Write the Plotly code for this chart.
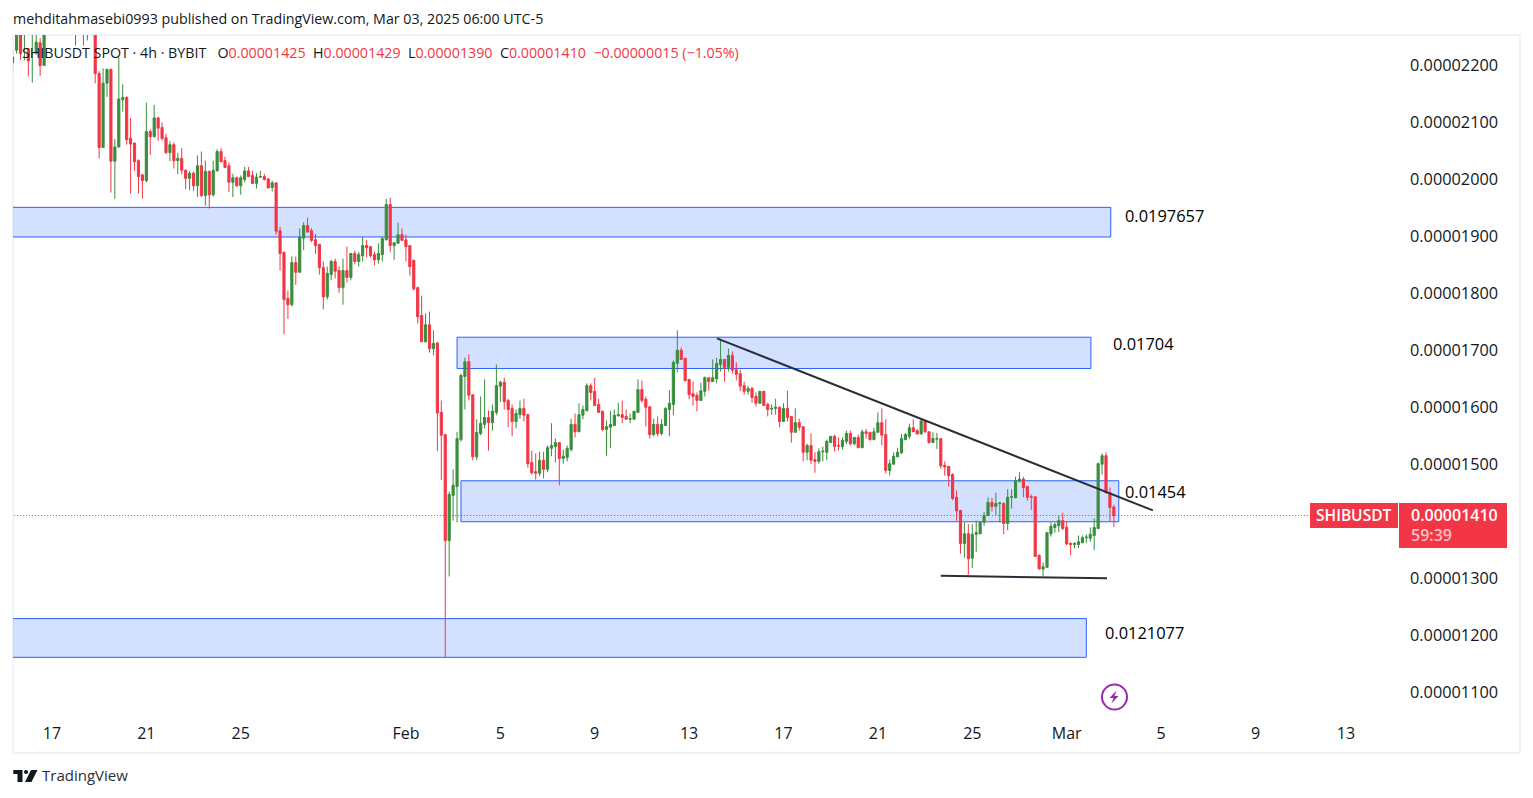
import numpy as np
import pandas as pd
import plotly.graph_objects as go

# 4h candles in units of 1e-8 USDT
opens = [
    2205, 2227, 2300, 2262, 2229, 2260, 2223, 2240, 2200, 2262,
    2275, 2305, 2290, 2280, 2295, 2275, 2262, 2280, 2285, 2262,
    2285, 2270, 2186, 2056, 2169, 2193, 2032, 2057, 2140, 2144,
    2072, 2064, 2033, 2008, 1998, 2084, 2075, 2108, 2091, 2073,
    2047, 2061, 2033, 2037, 2016, 2002, 2011, 1989, 2024, 1972,
    2014, 1973, 2015, 2049, 2033, 2024, 1995, 2003, 1989, 2000,
    2015, 2007, 1993, 2004, 2005, 2001, 1986, 1994, 1910, 1872,
    1791, 1780, 1854, 1837, 1897, 1919, 1910, 1894, 1886, 1845,
    1794, 1833, 1856, 1840, 1810, 1840, 1828, 1870, 1856, 1866,
    1884, 1882, 1868, 1859, 1868, 1894, 1956, 1884, 1888, 1903,
    1894, 1884, 1858, 1810, 1761, 1715, 1745, 1703, 1713, 1591,
    1552, 1366, 1445, 1461, 1543, 1654, 1680, 1622, 1513, 1554,
    1570, 1582, 1573, 1591, 1637, 1644, 1612, 1598, 1575, 1587,
    1598, 1587, 1503, 1487, 1484, 1507, 1491, 1528, 1531, 1538,
    1510, 1512, 1526, 1570, 1557, 1586, 1594, 1638, 1628, 1605,
    1593, 1561, 1565, 1568, 1585, 1587, 1584, 1579, 1579, 1591,
    1631, 1614, 1601, 1552, 1570, 1554, 1568, 1596, 1605, 1677,
    1700, 1686, 1649, 1624, 1621, 1612, 1628, 1652, 1645, 1650,
    1675, 1684, 1670, 1691, 1666, 1659, 1638, 1628, 1633, 1619,
    1607, 1628, 1605, 1597, 1598, 1600, 1575, 1598, 1584, 1556,
    1573, 1566, 1521, 1533, 1508, 1505, 1522, 1521, 1538, 1549,
    1533, 1531, 1540, 1554, 1536, 1547, 1529, 1557, 1556, 1543,
    1556, 1573, 1552, 1489, 1500, 1513, 1520, 1543, 1549, 1564,
    1559, 1553, 1576, 1557, 1538, 1544, 1545, 1498, 1496, 1482,
    1442, 1419, 1361, 1378, 1335, 1377, 1378, 1398, 1410, 1433,
    1426, 1431, 1431, 1396, 1442, 1441, 1470, 1474, 1461, 1443,
    1443, 1340, 1316, 1319, 1378, 1389, 1392, 1401, 1389, 1361,
    1359, 1359, 1362, 1371, 1370, 1375, 1387, 1500, 1515, 1450, 1425,
]
highs = [
    2230, 2310, 2305, 2285, 2231, 2300, 2270, 2248, 2280, 2290,
    2310, 2320, 2315, 2300, 2310, 2295, 2290, 2290, 2295, 2295,
    2295, 2280, 2190, 2195, 2195, 2195, 2071, 2214, 2167, 2146,
    2108, 2064, 2035, 2010, 2135, 2088, 2131, 2110, 2100, 2080,
    2067, 2065, 2047, 2055, 2018, 2015, 2014, 2042, 2049, 2033,
    2016, 2033, 2053, 2055, 2040, 2030, 2010, 2005, 2007, 2022,
    2022, 2015, 2011, 2015, 2010, 2002, 1998, 1995, 1917, 1873,
    1805, 1865, 1865, 1914, 1925, 1933, 1914, 1904, 1887, 1856,
    1847, 1859, 1861, 1847, 1861, 1882, 1871, 1875, 1873, 1899,
    1894, 1883, 1873, 1888, 1900, 1966, 1968, 1889, 1924, 1914,
    1903, 1885, 1859, 1812, 1796, 1765, 1768, 1735, 1714, 1612,
    1553, 1452, 1491, 1557, 1659, 1687, 1693, 1622, 1579, 1619,
    1649, 1594, 1605, 1675, 1647, 1652, 1615, 1605, 1596, 1612,
    1615, 1589, 1524, 1519, 1522, 1522, 1533, 1572, 1545, 1538,
    1526, 1533, 1580, 1589, 1607, 1603, 1642, 1642, 1652, 1615,
    1594, 1577, 1594, 1596, 1608, 1612, 1596, 1589, 1593, 1649,
    1647, 1619, 1601, 1580, 1584, 1579, 1600, 1630, 1682, 1735,
    1705, 1686, 1649, 1645, 1626, 1643, 1654, 1652, 1684, 1687,
    1719, 1684, 1703, 1698, 1679, 1666, 1645, 1638, 1636, 1626,
    1628, 1629, 1608, 1605, 1615, 1601, 1607, 1629, 1584, 1598,
    1580, 1566, 1536, 1554, 1521, 1528, 1531, 1543, 1549, 1552,
    1547, 1547, 1559, 1559, 1548, 1552, 1561, 1562, 1556, 1564,
    1591, 1598, 1579, 1508, 1521, 1529, 1553, 1555, 1571, 1579,
    1562, 1580, 1578, 1557, 1556, 1555, 1545, 1505, 1497, 1484,
    1454, 1419, 1398, 1395, 1395, 1401, 1399, 1416, 1442, 1441,
    1450, 1433, 1433, 1456, 1456, 1478, 1486, 1478, 1461, 1447,
    1443, 1342, 1327, 1380, 1398, 1398, 1410, 1415, 1399, 1363,
    1363, 1375, 1375, 1377, 1389, 1405, 1503, 1519, 1521, 1459, 1429,
]
lows = [
    2186, 2221, 2210, 2209, 2181, 2170, 2219, 2182, 2200, 2258,
    2270, 2285, 2275, 2265, 2270, 2262, 2235, 2262, 2235, 2244,
    2262, 2169, 2037, 2056, 2145, 1977, 1966, 2056, 2119, 2061,
    1975, 2015, 1975, 1966, 1995, 2043, 2075, 2068, 2068, 2045,
    2032, 2019, 2009, 2009, 1983, 1981, 1980, 1969, 1969, 1954,
    1949, 1970, 2014, 2030, 2020, 1978, 1969, 1987, 1973, 1995,
    2004, 1993, 1984, 2003, 1998, 1985, 1979, 1903, 1840, 1728,
    1755, 1777, 1815, 1837, 1876, 1906, 1890, 1869, 1833, 1772,
    1789, 1823, 1826, 1801, 1780, 1819, 1823, 1851, 1847, 1856,
    1863, 1863, 1849, 1852, 1856, 1893, 1872, 1859, 1887, 1893,
    1856, 1831, 1805, 1747, 1715, 1714, 1696, 1691, 1523, 1472,
    1161, 1303, 1401, 1398, 1540, 1596, 1612, 1507, 1507, 1551,
    1563, 1524, 1559, 1586, 1609, 1596, 1565, 1549, 1563, 1580,
    1575, 1494, 1482, 1473, 1479, 1475, 1486, 1514, 1503, 1463,
    1501, 1505, 1522, 1547, 1557, 1579, 1593, 1612, 1603, 1591,
    1558, 1515, 1528, 1568, 1584, 1572, 1579, 1572, 1579, 1591,
    1608, 1566, 1545, 1549, 1549, 1551, 1568, 1549, 1586, 1661,
    1684, 1645, 1614, 1603, 1593, 1612, 1619, 1629, 1645, 1642,
    1663, 1645, 1663, 1659, 1647, 1628, 1622, 1622, 1608, 1601,
    1607, 1603, 1584, 1587, 1587, 1565, 1575, 1575, 1538, 1556,
    1559, 1505, 1507, 1500, 1485, 1501, 1505, 1507, 1538, 1522,
    1524, 1526, 1535, 1533, 1533, 1529, 1529, 1545, 1542, 1543,
    1556, 1533, 1484, 1480, 1500, 1513, 1518, 1543, 1544, 1557,
    1553, 1553, 1555, 1536, 1538, 1527, 1492, 1480, 1461, 1437,
    1401, 1343, 1336, 1306, 1318, 1346, 1377, 1392, 1410, 1417,
    1410, 1398, 1377, 1384, 1422, 1441, 1468, 1442, 1436, 1420,
    1338, 1316, 1303, 1319, 1373, 1380, 1381, 1384, 1358, 1340,
    1352, 1353, 1362, 1362, 1364, 1349, 1387, 1482, 1448, 1400, 1390,
]
closes = [
    2215, 2300, 2221, 2275, 2208, 2280, 2241, 2200, 2262, 2275,
    2305, 2290, 2280, 2295, 2275, 2288, 2280, 2272, 2262, 2285,
    2270, 2186, 2056, 2169, 2193, 2032, 2057, 2141, 2144, 2070,
    2062, 2031, 2005, 1998, 2084, 2075, 2108, 2090, 2072, 2047,
    2061, 2033, 2037, 2016, 2002, 2011, 1989, 2024, 1972, 2014,
    1973, 2016, 2049, 2031, 2021, 1995, 2003, 1989, 2003, 2015,
    2005, 1993, 2004, 2005, 2000, 1985, 1994, 1909, 1870, 1789,
    1780, 1854, 1837, 1899, 1919, 1908, 1893, 1884, 1845, 1794,
    1835, 1856, 1839, 1810, 1840, 1828, 1870, 1856, 1868, 1884,
    1880, 1866, 1859, 1870, 1896, 1956, 1884, 1889, 1903, 1893,
    1882, 1847, 1808, 1759, 1715, 1745, 1703, 1712, 1590, 1551,
    1366, 1447, 1463, 1545, 1656, 1680, 1621, 1513, 1556, 1572,
    1582, 1573, 1593, 1638, 1644, 1610, 1596, 1575, 1589, 1598,
    1586, 1501, 1485, 1484, 1507, 1491, 1529, 1533, 1538, 1510,
    1514, 1528, 1570, 1557, 1587, 1596, 1638, 1626, 1603, 1591,
    1561, 1566, 1570, 1586, 1587, 1582, 1579, 1580, 1593, 1631,
    1612, 1600, 1552, 1570, 1554, 1570, 1598, 1607, 1679, 1700,
    1684, 1647, 1622, 1619, 1612, 1629, 1652, 1645, 1652, 1677,
    1684, 1670, 1691, 1665, 1658, 1637, 1628, 1633, 1617, 1607,
    1628, 1603, 1596, 1598, 1600, 1575, 1598, 1582, 1556, 1573,
    1565, 1521, 1533, 1507, 1505, 1522, 1523, 1540, 1549, 1531,
    1532, 1542, 1554, 1536, 1547, 1529, 1557, 1554, 1543, 1557,
    1573, 1551, 1489, 1501, 1514, 1521, 1545, 1552, 1564, 1557,
    1553, 1576, 1557, 1538, 1545, 1545, 1497, 1495, 1480, 1440,
    1418, 1361, 1378, 1334, 1377, 1380, 1398, 1410, 1433, 1426,
    1431, 1432, 1396, 1442, 1443, 1471, 1474, 1459, 1442, 1442,
    1338, 1316, 1320, 1380, 1391, 1394, 1401, 1387, 1360, 1359,
    1361, 1364, 1371, 1372, 1377, 1389, 1501, 1515, 1450, 1424, 1410,
]

tick_dates = ["2025-01-17", "2025-01-21", "2025-01-25", "2025-02-01", "2025-02-05",
              "2025-02-09", "2025-02-13", "2025-02-17", "2025-02-21", "2025-02-25",
              "2025-03-01", "2025-03-05", "2025-03-09", "2025-03-12 20:00"]
tick_labels = ["17", "21", "25", "Feb", "5", "9", "13", "17", "21", "25", "Mar", "5", "9", "13"]
# 1400 sits behind the last price label in the original
price_ticks = [1100, 1200, 1300, 1500, 1600, 1700, 1800, 1900, 2000, 2100, 2200]

RED = "#F23645"
GREEN = "#388E3C"
BLUE = "#2962FF"
ZONE_FILL = "rgba(41,98,255,0.2)"
INK = "#131722"
FONT = "Open Sans"

SCALE = 1e-8
times = pd.date_range("2025-01-15 08:00", periods=len(opens), freq="4h")

# plot area in page pixels
W, H = 1533, 798
L, R, T, B = 13, 1400, 35, 718


def px(x):
    return (x - L) / (R - L)


def py(y):
    return (B - y) / (B - T)


fig = go.Figure(go.Candlestick(
    x=times,
    open=np.array(opens) * SCALE,
    high=np.array(highs) * SCALE,
    low=np.array(lows) * SCALE,
    close=np.array(closes) * SCALE,
    increasing=dict(line=dict(color=GREEN, width=1), fillcolor=GREEN),
    decreasing=dict(line=dict(color=RED, width=1), fillcolor=RED),
    whiskerwidth=0,
    hoverinfo="skip",
    showlegend=False,
))

shapes = []

# supply / demand zones
zones = [
    ("2025-01-14", "2025-03-02 20:50", 1951, 1899),
    ("2025-02-03 04:00", "2025-03-02 00:40", 1723, 1668),
    ("2025-02-03 08:00", "2025-03-03 05:00", 1471, 1399),
    ("2025-01-14", "2025-03-01 20:00", 1229, 1161),
]
for x0, x1, top, bottom in zones:
    shapes.append(dict(type="rect", xref="x", yref="y", x0=x0, x1=x1, y0=bottom * SCALE, y1=top * SCALE,
                       fillcolor=ZONE_FILL, line=dict(color=BLUE, width=1), layer="below"))

# last price line
shapes.append(dict(type="line", xref="x", yref="y", x0="2025-01-14", x1="2025-03-11 07:00",
                   y0=1410 * SCALE, y1=1410 * SCALE, line=dict(color=RED, width=1, dash="1px,2px"), layer="below"))

# trend lines
shapes.append(dict(type="line", xref="x", yref="y", x0="2025-02-14 04:20", x1="2025-03-04 15:40",
                   y0=1721 * SCALE, y1=1419 * SCALE, line=dict(color="#2A2E39", width=2)))
shapes.append(dict(type="line", xref="x", yref="y", x0="2025-02-23 16:00", x1="2025-03-02 17:00",
                   y0=1304 * SCALE, y1=1300 * SCALE, line=dict(color="#2A2E39", width=2)))


def page_shape(**kw):
    shapes.append(dict(xref="paper", yref="paper", **kw))


# panel border
page_shape(type="rect", x0=px(13), x1=px(1520), y0=py(753), y1=py(35), line=dict(color="#F0F3FA", width=2), layer="below")

# price labels on the axis
page_shape(type="rect", x0=px(1310), x1=px(1398), y0=py(528), y1=py(503), fillcolor=RED, line=dict(width=0))
page_shape(type="rect", x0=px(1399), x1=px(1507), y0=py(548), y1=py(503), fillcolor=RED, line=dict(width=0))

# lightning badge
page_shape(type="circle", x0=px(1102), x1=px(1127), y0=py(709.5), y1=py(684.5), line=dict(color="#9C27B0", width=2), fillcolor="white")
bolt = [(1116.5, 690.5), (1109.5, 698), (1113.5, 698), (1111.5, 703.5), (1118.5, 696), (1114.5, 696)]
page_shape(type="path", path="M" + " L".join(f"{px(x)},{py(y)}" for x, y in bolt) + " Z", fillcolor="#9C27B0", line=dict(width=0))

# TradingView logo
logo_t = [(13.3, 770), (22.5, 770), (22.5, 782), (17.5, 782), (17.5, 774), (13.3, 774)]
logo_slash = [(31, 770), (37.5, 770), (31.5, 782), (25, 782)]
page_shape(type="path", path="M" + " L".join(f"{px(x)},{py(y)}" for x, y in logo_t) + " Z", fillcolor=INK, line=dict(width=0))
page_shape(type="path", path="M" + " L".join(f"{px(x)},{py(y)}" for x, y in logo_slash) + " Z", fillcolor=INK, line=dict(width=0))
page_shape(type="circle", x0=px(24), x1=px(28), y0=py(774), y1=py(770), fillcolor=INK, line=dict(width=0))


def page_text(x, y, text, size=14, color=INK, anchor="left", weight=400):
    # annotation box pads the text by 2px
    shift = 2 if anchor == "left" else 0
    return dict(xref="paper", yref="paper", x=px(x - shift), y=py(y - 1), text=text, showarrow=False,
                xanchor=anchor, yanchor="middle", align="left",
                font=dict(family=FONT, size=size, color=color, weight=weight))


ohlc = (f'<span style="color:{RED}">0.00001425</span>  H<span style="color:{RED}">0.00001429</span>'
        f'  L<span style="color:{RED}">0.00001390</span>  C<span style="color:{RED}">0.00001410</span>'
        f'  <span style="color:{RED}">−0.00000015 (−1.05%)</span>')

annotations = [
    page_text(13, 19, "mehditahmasebi0993 published on TradingView.com, Mar 03, 2025 06:00 UTC-5", 14.25),
    page_text(22, 54, "SHIBUSDT SPOT · 4h · BYBIT   O" + ohlc, 14.25),
    page_text(42, 776, "TradingView", 15, "#2A2E39"),
    page_text(1125, 216, "0.0197657", 16.4, "#000000"),
    page_text(1113, 344, "0.01704", 16.4, "#000000"),
    page_text(1125, 493, "0.01454", 16.4, "#000000"),
    page_text(1105, 633, "0.0121077", 16.4, "#000000"),
    page_text(1354, 516, "SHIBUSDT", 15.5, "#FFFFFF", "center", 600),
    page_text(1411, 516, "0.00001410", 16, "#FFFFFF", weight=600),
    page_text(1411, 536, "59:39", 16, "rgba(255,255,255,0.7)", weight=600),
]

fig.update_layout(
    width=W, height=H,
    margin=dict(l=L, r=W - R, t=T, b=H - B, pad=0),
    paper_bgcolor="white",
    plot_bgcolor="white",
    boxgap=0.22,
    shapes=shapes,
    annotations=annotations,
    hovermode=False,
    showlegend=False,
    font=dict(family=FONT, color=INK),
)
fig.update_xaxes(
    type="date",
    range=["2025-01-15 08:24", "2025-03-15 03:00"],
    rangeslider_visible=False,
    showgrid=False, zeroline=False, showline=False, ticks="",
    tickmode="array", tickvals=tick_dates, ticktext=tick_labels,
    tickfont=dict(family=FONT, size=16, color=INK, weight=500),
    ticklabelstandoff=4,
)
fig.update_yaxes(
    side="right",
    range=[1054.48 * SCALE, 2253.58 * SCALE],
    tickmode="array", tickvals=[v * SCALE for v in price_ticks], tickformat=".8f",
    showgrid=False, zeroline=False, showline=False, ticks="",
    tickfont=dict(family=FONT, size=16.3, color=INK, weight=500),
    ticklabelstandoff=9,
)

fig.write_html("out.html", config={"displayModeBar": False}, post_script="document.body.style.margin='0';")
